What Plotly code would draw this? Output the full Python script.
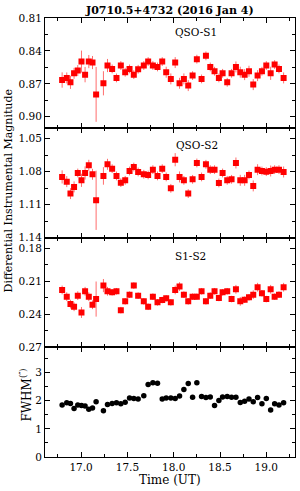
import plotly.graph_objects as go
from plotly.subplots import make_subplots

# Time (UT) of each frame
time_ut = [16.795, 16.845, 16.885, 16.924, 16.964, 17.004, 17.043, 17.083, 17.123, 17.162,
           17.241, 17.285, 17.335, 17.382, 17.429, 17.476, 17.523, 17.569, 17.616, 17.677,
           17.724, 17.775, 17.825, 17.876, 17.919, 17.969, 18.016, 18.063, 18.110, 18.157,
           18.204, 18.250, 18.301, 18.348, 18.395, 18.441, 18.488, 18.528, 18.578, 18.625,
           18.672, 18.719, 18.766, 18.813, 18.859, 18.906, 18.953, 19.000, 19.047, 19.090,
           19.137, 19.187]

qso_s1 = [0.8665, 0.8646, 0.8686, 0.8604, 0.8579, 0.8497, 0.8616, 0.8497, 0.8506, 0.8796,
          0.8695, 0.8533, 0.8564, 0.8646, 0.8533, 0.8594, 0.8564, 0.8616, 0.8567, 0.8533,
          0.8497, 0.8533, 0.8546, 0.8497, 0.8594, 0.8655, 0.8506, 0.8695, 0.8655, 0.8716,
          0.8625, 0.8475, 0.8655, 0.8445, 0.8546, 0.8585, 0.8646, 0.8604, 0.8686, 0.8604,
          0.8546, 0.8594, 0.8616, 0.8585, 0.8707, 0.8625, 0.8585, 0.8533, 0.8604, 0.8524,
          0.8564, 0.8646]
qso_s1_err = [0.007, 0.005, 0.006, 0.005, 0.005, 0.010, 0.007, 0.006, 0.006, 0.025,
              0.011, 0.006, 0.004, 0.004, 0.004, 0.004, 0.004, 0.004, 0.004, 0.004,
              0.004, 0.004, 0.004, 0.004, 0.005, 0.005, 0.005, 0.005, 0.005, 0.005,
              0.004, 0.004, 0.004, 0.004, 0.004, 0.004, 0.004, 0.004, 0.004, 0.004,
              0.005, 0.005, 0.005, 0.005, 0.005, 0.005, 0.004, 0.004, 0.006, 0.004,
              0.004, 0.005]

qso_s2 = [1.0848, 1.0891, 1.1000, 1.0939, 1.0812, 1.0879, 1.0812, 1.0742, 1.0824, 1.1061,
          1.0839, 1.0733, 1.0773, 1.0839, 1.0900, 1.0879, 1.0794, 1.0758, 1.0803, 1.0824,
          1.0830, 1.0782, 1.0839, 1.0773, 1.0848, 1.0952, 1.0691, 1.0848, 1.0879, 1.1000,
          1.0870, 1.0721, 1.0848, 1.0733, 1.0782, 1.0782, 1.0903, 1.0812, 1.0879, 1.0870,
          1.0721, 1.0879, 1.0879, 1.0830, 1.0930, 1.0782, 1.0794, 1.0800, 1.0794, 1.0782,
          1.0782, 1.0803]
qso_s2_err = [0.006, 0.005, 0.005, 0.005, 0.004, 0.006, 0.006, 0.005, 0.005, 0.027,
              0.008, 0.005, 0.004, 0.004, 0.004, 0.004, 0.004, 0.004, 0.004, 0.004,
              0.004, 0.004, 0.004, 0.004, 0.004, 0.004, 0.006, 0.005, 0.004, 0.004,
              0.004, 0.004, 0.004, 0.004, 0.004, 0.004, 0.004, 0.004, 0.004, 0.004,
              0.005, 0.005, 0.005, 0.004, 0.005, 0.005, 0.004, 0.004, 0.005, 0.004,
              0.004, 0.005]

s1_s2 = [0.2178, 0.2239, 0.2307, 0.2331, 0.2230, 0.2383, 0.2190, 0.2239, 0.2313, 0.2261,
         0.2138, 0.2190, 0.2199, 0.2190, 0.2362, 0.2282, 0.2221, 0.2138, 0.2230, 0.2282,
         0.2331, 0.2239, 0.2291, 0.2270, 0.2254, 0.2291, 0.2178, 0.2147, 0.2221, 0.2282,
         0.2239, 0.2239, 0.2190, 0.2282, 0.2230, 0.2190, 0.2251, 0.2199, 0.2190, 0.2261,
         0.2172, 0.2282, 0.2267, 0.2245, 0.2221, 0.2153, 0.2208, 0.2261, 0.2172, 0.2239,
         0.2221, 0.2153]
s1_s2_err = [0.004, 0.004, 0.004, 0.004, 0.004, 0.005, 0.004, 0.004, 0.004, 0.016,
             0.006, 0.004, 0.003, 0.003, 0.003, 0.003, 0.003, 0.003, 0.003, 0.003,
             0.003, 0.003, 0.003, 0.003, 0.003, 0.003, 0.004, 0.004, 0.003, 0.003,
             0.003, 0.003, 0.003, 0.003, 0.003, 0.003, 0.003, 0.003, 0.003, 0.003,
             0.004, 0.004, 0.003, 0.003, 0.004, 0.004, 0.003, 0.003, 0.004, 0.003,
             0.003, 0.004]

fwhm = [1.845, 1.93, 1.905, 1.726, 1.845, 1.833, 1.81, 1.70, 1.74, 1.96,
        1.64, 1.87, 1.905, 1.93, 1.89, 1.95, 2.10, 2.08, 2.06, 2.18,
        2.58, 2.64, 2.62, 2.06, 2.10, 2.10, 2.08, 2.17, 2.40, 2.61,
        2.12, 2.64, 2.15, 2.11, 2.13, 1.83, 2.01, 2.13, 2.15, 2.12,
        2.12, 1.94, 1.98, 2.06, 1.96, 2.11, 1.89, 2.08, 1.67, 1.89,
        1.85, 1.93]

y_ticks = [[0.81, 0.84, 0.87, 0.90], [1.05, 1.08, 1.11, 1.14], [0.18, 0.21, 0.24, 0.27], [0, 1, 2, 3]]
x_ticks = [17.0, 17.5, 18.0, 18.5, 19.0]

FONT = "DejaVu Serif"

fig = make_subplots(rows=4, cols=1, shared_xaxes=True, vertical_spacing=0)

for row, (vals, errs) in enumerate([(qso_s1, qso_s1_err), (qso_s2, qso_s2_err), (s1_s2, s1_s2_err)], start=1):
    fig.add_trace(go.Scatter(
        x=time_ut, y=vals, mode="markers",
        marker=dict(symbol="square", size=6, color="#ff0000"),
        error_y=dict(type="data", array=errs, visible=True, color="rgba(255,60,60,0.75)",
                     thickness=1, width=0),
        showlegend=False), row=row, col=1)

fig.add_trace(go.Scatter(
    x=time_ut, y=fwhm, mode="markers",
    marker=dict(symbol="circle", size=5.5, color="black"),
    showlegend=False), row=4, col=1)

axis_common = dict(showline=True, linecolor="black", linewidth=1, mirror="allticks",
                   ticks="inside", ticklen=5, tickwidth=1, tickcolor="black",
                   showgrid=False, zeroline=False,
                   tickfont=dict(family=FONT, size=10.5, color="black"))

for r in range(1, 5):
    fig.update_xaxes(range=[16.61, 19.31], tickvals=x_ticks, ticktext=[f"{v:.1f}" for v in x_ticks],
                     minor=dict(ticks="inside", ticklen=3, tickcolor="black", dtick=0.25, tick0=16.75),
                     showticklabels=(r == 4), row=r, col=1, **axis_common)

yranges = [[0.91, 0.81], [1.14, 1.04], [0.27, 0.17], [0, 3.9]]
ydticks = [0.015, 0.015, 0.015, 0.5]
for r in range(1, 5):
    tv = y_ticks[r - 1]
    tt = [f"{v:.2f}" for v in tv] if r < 4 else [str(v) for v in tv]
    fig.update_yaxes(range=yranges[r - 1], tickvals=tv, ticktext=tt,
                     minor=dict(ticks="inside", ticklen=3, tickcolor="black",
                                dtick=ydticks[r - 1], tick0=tv[0]),
                     row=r, col=1, **axis_common)

def ann(text, x, y, size=11, angle=0):
    fig.add_annotation(text=text, x=x, y=y, xref="paper", yref="paper", showarrow=False,
                       xanchor="center", yanchor="middle", textangle=angle,
                       font=dict(family=FONT, size=size, color="black"))

ann("<b>J0710.5+4732 (2016 Jan 4)</b>", 0.496, 1.018, size=11)
ann("QSO-S1", 0.604, 0.969, size=10.5)
ann("QSO-S2", 0.608, 0.711, size=10.5)
ann("S1-S2", 0.58, 0.458, size=10.5)
ann("Differential Instrumental Magnitude", -0.148, 0.605, size=11, angle=-90)
ann("FWHM<sup>(″)</sup>", -0.076, 0.14, size=12, angle=-90)
ann("Time (UT)", 0.5, -0.053, size=12)

fig.update_layout(width=300, height=491, margin=dict(l=45, r=5, t=18, b=34),
                  plot_bgcolor="white", paper_bgcolor="white",
                  font=dict(family=FONT, color="black"))

fig.write_html("out.html", config={"displayModeBar": False},
               post_script="document.body.style.margin='0';document.body.style.padding='0';")
